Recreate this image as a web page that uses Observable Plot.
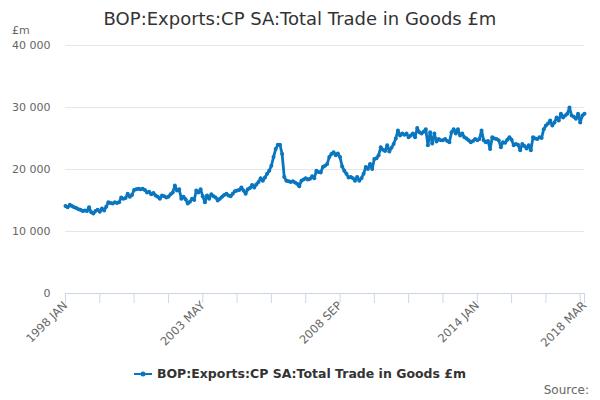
<!DOCTYPE html>
<html>
<head>
<meta charset="utf-8">
<script src="https://cdn.jsdelivr.net/npm/d3@7"></script>
<script src="https://cdn.jsdelivr.net/npm/@observablehq/plot@0.6"></script>
<style>
  body { margin: 0; background: #fff; }
  #wrap { position: relative; width: 600px; height: 400px; font-family: "DejaVu Sans", sans-serif; overflow: hidden; }
  #head { position: relative; height: 32px; }
  #title { position: absolute; left: 0; right: 0; top: 7px; text-align: center; font-size: 18px; color: #333; line-height: 24px; }
  #unit { position: absolute; left: 12px; top: 24px; font-size: 11px; color: #666; }
  #legend { position: absolute; left: 0; right: 0; top: 366px; display: flex; justify-content: center; align-items: center; font-size: 12.5px; font-weight: bold; color: #333; }
  #legend svg { margin-right: 5px; }
  #source { position: absolute; right: 11px; top: 383px; font-size: 12px; color: #666; }
</style>
</head>
<body>
<div id="wrap">
  <div id="head"><div id="title"></div><div id="unit"></div></div>
  <div id="chart"></div>
  <div id="legend"></div>
  <div id="source"></div>
</div>
<script>
const titleText = "BOP:Exports:CP SA:Total Trade in Goods £m";
const seriesName = "BOP:Exports:CP SA:Total Trade in Goods £m";
const unitLabel = "£m";
const sourceText = "Source:";
const monthNames = ["JAN","FEB","MAR","APR","MAY","JUN","JUL","AUG","SEP","OCT","NOV","DEC"];
const startYear = 1998;
const tickLabels = ["1998 JAN","2003 MAY","2008 SEP","2014 JAN","2018 MAR"];
const yTicks = [0, 10000, 20000, 30000, 40000];

// Monthly exports, £m, 1998 JAN – 2018 MAR
const values = [
  14100,13900,14300,14100,13900,13800,13600,13500,13300,13400,13300,13900,
  13100,12900,13300,13500,13200,13700,13400,14000,14700,14600,14500,14700,
  14600,14700,15500,15300,15400,16100,15600,15900,16700,16800,16900,16800,
  16900,16700,16300,16400,16000,16200,15800,15600,15300,15800,15700,15500,
  15600,16000,16300,17400,16600,16800,15300,15600,15200,14500,14800,15300,
  15100,16600,16300,16800,15700,14700,15800,15300,16000,15700,15500,15000,
  15300,15600,15900,16100,15800,15700,16100,16500,16600,16700,17100,16600,
  16100,16800,17000,17500,17100,17600,18000,18600,18200,18700,19300,19800,
  20600,22000,23300,24000,24000,22500,18800,18200,18100,18000,18100,17900,
  17700,17300,18200,18400,18600,18400,18500,18900,18600,19800,19600,19500,
  20400,20600,20900,22000,22500,22800,22300,22600,22000,20500,19800,19300,
  18700,18800,18600,18200,18800,18200,18600,19300,20400,20100,20900,20100,
  21700,21800,22300,23600,23200,23000,23900,22900,23500,24100,25000,26300,
  25500,25800,25600,25800,25200,25500,25800,25200,26700,26000,25800,26100,
  26500,23900,26000,24200,25800,24500,24900,24700,24700,24900,24600,24400,
  26000,26500,25800,26500,25500,25800,25200,25000,24700,24400,24600,24900,
  24700,24900,26300,24700,24400,24600,23300,25200,25000,24900,24700,23600,
  24400,24300,24800,25200,24800,23900,24100,24000,23100,24100,23800,23400,
  23900,23100,25200,25000,24900,25200,25100,26500,27100,27400,27900,27100,
  27600,28400,27900,29000,28400,28700,29000,30000,28700,28500,28200,29000,
  27600,28700,29000
];

const months = values.map((_, i) => `${startYear + Math.floor(i / 12)} ${monthNames[i % 12]}`);
const data = values.map((v, i) => ({ i, month: months[i], value: v }));
const last = values.length - 1;
const tickIdx = months.map((_, i) => i).filter(i => i % 16 === 0).concat([last]);
const labelIdx = tickLabels.map(l => months.indexOf(l));
const labelOf = new Map(labelIdx.map((i, k) => [i, tickLabels[k]]));

const blue = "#0a76bf";
const fmt = d => d3.format(",")(d).replace(/,/g, "\u00a0");

document.getElementById("title").textContent = titleText;
document.getElementById("unit").textContent = unitLabel;
document.getElementById("source").textContent = sourceText;

const chart = Plot.plot({
  width: 600,
  height: 320,
  marginLeft: 65,
  marginRight: 16,
  marginTop: 13,
  marginBottom: 59,
  style: { fontFamily: "DejaVu Sans, sans-serif", fontSize: "11px", color: "#666", background: "#fff" },
  x: { domain: [0, last], label: null },
  y: { domain: [0, 40000], label: null },
  marks: [
    Plot.gridY(yTicks.filter(d => d > 0), { stroke: "#e6e6e6", strokeOpacity: 1 }),
    Plot.axisY({ ticks: yTicks, tickSize: 0, tickPadding: 15, tickFormat: fmt, fill: "#666" }),
    Plot.ruleY([0], { stroke: "#ccd6eb", strokeWidth: 1 }),
    Plot.axisX({ ticks: tickIdx, tickSize: 10, tickFormat: () => "", stroke: "#ccd6eb", strokeOpacity: 1 }),
    Plot.axisX({ ticks: labelIdx, tickSize: 0, tickPadding: 10, tickRotate: -45, tickFormat: i => labelOf.get(i), fill: "#666", fontSize: 11.5 }),
    Plot.line(data, { x: "i", y: "value", stroke: blue, strokeWidth: 2.8, strokeLinejoin: "round" }),
    Plot.dot(data, { x: "i", y: "value", r: 2, fill: blue, stroke: "none" })
  ]
});
document.getElementById("chart").appendChild(chart);

const legend = document.getElementById("legend");
legend.innerHTML = `<svg width="18" height="10"><line x1="0" y1="5" x2="18" y2="5" stroke="${blue}" stroke-width="2"/><circle cx="9" cy="5" r="2.5" fill="${blue}"/></svg>`;
const span = document.createElement("span");
span.textContent = seriesName;
legend.appendChild(span);
</script>
</body>
</html>
